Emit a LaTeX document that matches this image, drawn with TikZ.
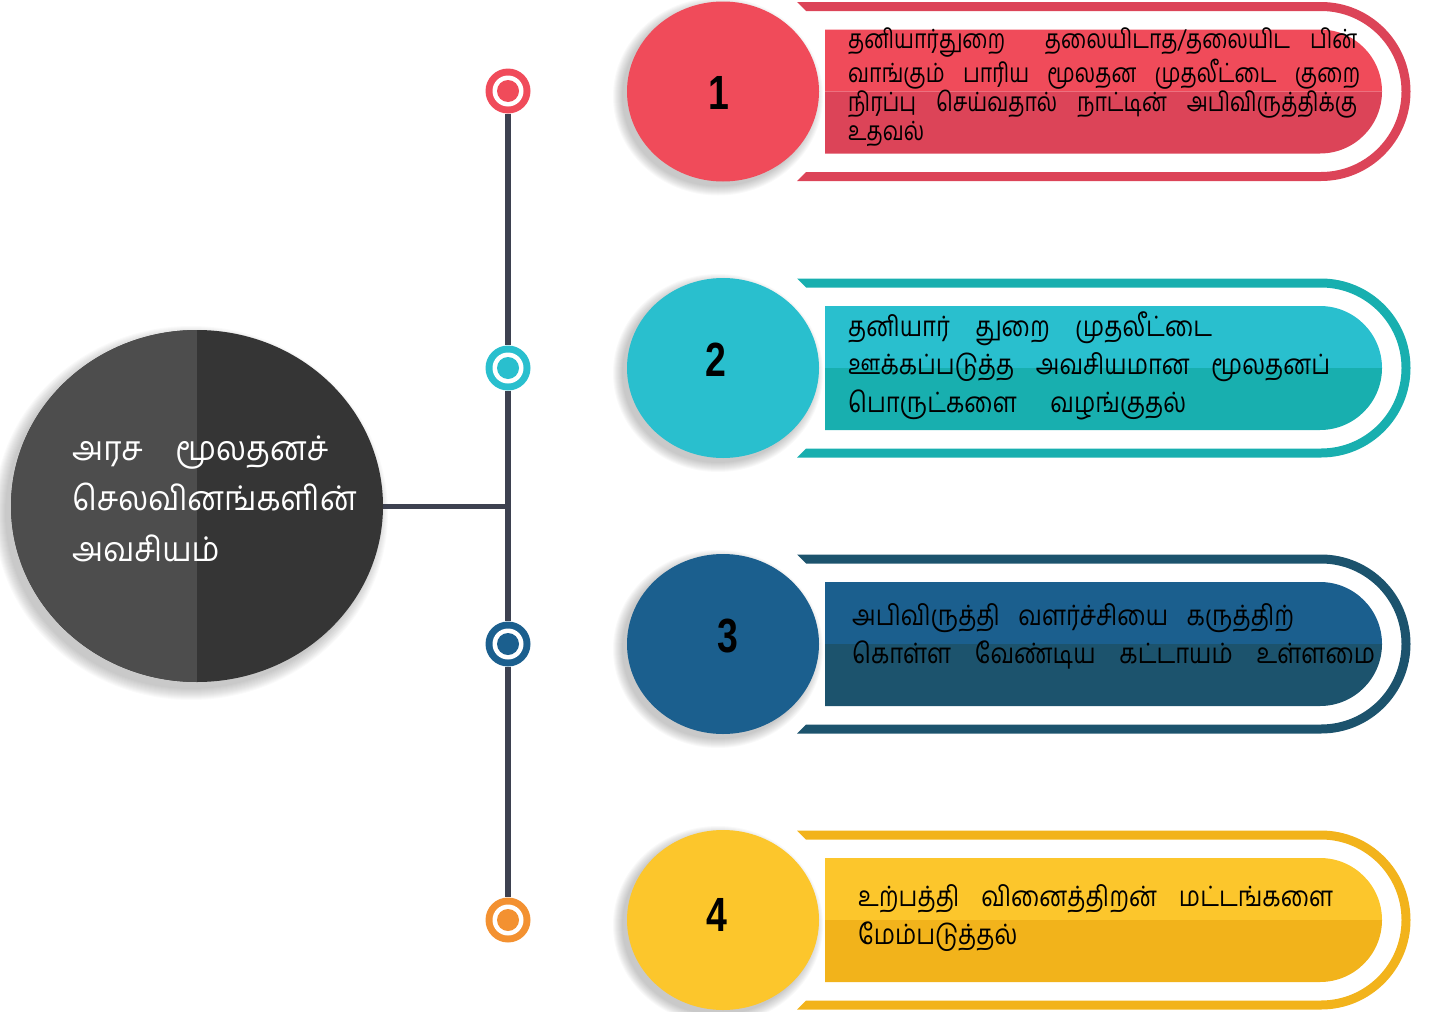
\documentclass[tikz,border=0pt]{standalone}
\usepackage{fontspec}
\usetikzlibrary{shapes.geometric}
\newfontfamily\tamil[Script=Tamil,FakeStretch=0.92]{Hind Madurai}
\newfontfamily\tamilnarrow[Script=Tamil,FakeStretch=0.85]{Hind Madurai}
\newfontfamily\tamilnarrower[Script=Tamil,FakeStretch=0.8]{Hind Madurai}
\newfontfamily\numfont[FakeStretch=0.78]{Liberation Sans}
\definecolor{redA}{HTML}{F04B5A}
\definecolor{redB}{HTML}{DC4458}
\definecolor{tealA}{HTML}{29BFCE}
\definecolor{tealB}{HTML}{18AFAF}
\definecolor{blueA}{HTML}{1B5F8E}
\definecolor{blueB}{HTML}{1C536D}
\definecolor{yelA}{HTML}{FCC62C}
\definecolor{yelB}{HTML}{F2B31B}
\definecolor{dotorange}{HTML}{F39131}
\definecolor{spine}{HTML}{3D4150}
\definecolor{greyL}{HTML}{4D4D4D}
\definecolor{greyD}{HTML}{353535}
\tikzset{
  numcirc/.style={ellipse, minimum width=192pt, minimum height=180pt, inner sep=0pt},
  numtext/.style={font=\numfont\bfseries\fontsize{48}{48}\selectfont, text=black, inner sep=0pt},
  bantext/.style={font=\tamilnarrow\fontsize{28}{29}\selectfont, text=black, inner sep=0pt, anchor=base west, align=left},
  bantextwide/.style={bantext, font=\tamilnarrow\fontsize{28}{38}\selectfont},
  bantextdense/.style={bantext, font=\tamilnarrower\fontsize{26.5}{29}\selectfont},
  tldot/.style={circle, minimum size=45pt, inner sep=0pt, fill=#1,
    path picture={\fill[white] (path picture bounding box.center) circle[radius=15.5pt];
                  \fill[#1] (path picture bounding box.center) circle[radius=11pt];}},
  spineline/.style={spine, line width=6pt},
}
\newcommand\mybanner[4]{%
  \fill[#3] (797,#1-89.5) -- (1321,#1-89.5) arc[start angle=-90,end angle=90,radius=89.5]
     -- (797,#1+89.5) -- (806,#1+80.5) -- (1321,#1+80.5) arc[start angle=90,end angle=-90,radius=80.5]
     -- (806,#1-80.5) -- cycle;
  \fill[#2] (825,#1-62) -- (1320,#1-62) arc[start angle=-90,end angle=0,radius=62] -- (825,#1) -- cycle;
  \fill[#3] (825,#1) -- (1382,#1) arc[start angle=0,end angle=90,radius=62] -- (825,#1+62) -- cycle;
  \foreach \k in {0,...,9} \fill[black,opacity=0.025] (718,#1+5) ellipse[x radius=96+\k, y radius=90+\k];
  \node[numcirc, fill=#2] (#4) at (723,#1) {};
}
\begin{document}
\begin{tikzpicture}[x=1pt,y=-1pt]
\useasboundingbox (0,0) rectangle (1430,1012);
% main circle
\foreach \k in {0,...,11} \fill[black,opacity=0.02] (191,513) ellipse[x radius=186+\k, y radius=176+\k];
\node[ellipse, minimum width=372pt, minimum height=352pt, inner sep=0pt, fill=greyD,
  path picture={\fill[greyL] (path picture bounding box.north west) rectangle (path picture bounding box.south);}]
  (main) at (197,506) {};
\node[font=\tamil\fontsize{34}{50.5}\selectfont, text=white, inner sep=0pt, anchor=base west, align=left] (maintext) at (72,561)
  {\makebox[256pt][s]{அரச மூலதனச்}\\செலவினங்களின்\\அவசியம்};
% timeline dots
\node[tldot=redA] (d1) at (508,91) {};
\node[tldot=tealA] (d2) at (508,368) {};
\node[tldot=blueA] (d3) at (508,644) {};
\node[tldot=dotorange] (d4) at (508,920) {};
\coordinate (junction) at (508,506);
\draw[spineline] (d1.south) -- (d2.north);
\draw[spineline] (d2.south) -- (d3.north);
\draw[spineline] (d3.south) -- (d4.north);
\draw[spine, line width=5pt] (main.east) -- (junction);
% banners
\mybanner{91.5}{redA}{redB}{c1}
\mybanner{368}{tealA}{tealB}{c2}
\mybanner{644}{blueA}{blueB}{c3}
\mybanner{920}{yelA}{yelB}{c4}
\node[numtext] (n1) at (719,93) {1};
\node[numtext] (n2) at (716,360) {2};
\node[numtext] (n3) at (728,636) {3};
\node[numtext] (n4) at (717,915) {4};
\node[bantextdense] (t1) at (848,140) {\makebox[509pt][s]{தனியார்துறை \ தலையிடாத/தலையிட பின்}\\
  \makebox[512pt][s]{வாங்கும் பாரிய மூலதன முதலீட்டை குறை}\\
  \makebox[509pt][s]{நிரப்பு செய்வதால் நாட்டின் அபிவிருத்திக்கு}\\
  உதவல்};
\node[bantextwide] (t2) at (848,412) {\makebox[364pt][s]{தனியார் துறை முதலீட்டை}\\
  \makebox[482pt][s]{ஊக்கப்படுத்த அவசியமான மூலதனப்}\\
  \makebox[338pt][s]{பொருட்களை வழங்குதல்}};
\node[bantextwide] (t3) at (852,663) {\makebox[442pt][s]{அபிவிருத்தி வளர்ச்சியை கருத்திற்}\\
  \makebox[523pt][s]{கொள்ள வேண்டிய கட்டாயம் உள்ளமை}};
\node[bantextwide] (t4) at (858,944) {\makebox[475pt][s]{உற்பத்தி வினைத்திறன் மட்டங்களை}\\
  மேம்படுத்தல்};
\end{tikzpicture}
\end{document}
